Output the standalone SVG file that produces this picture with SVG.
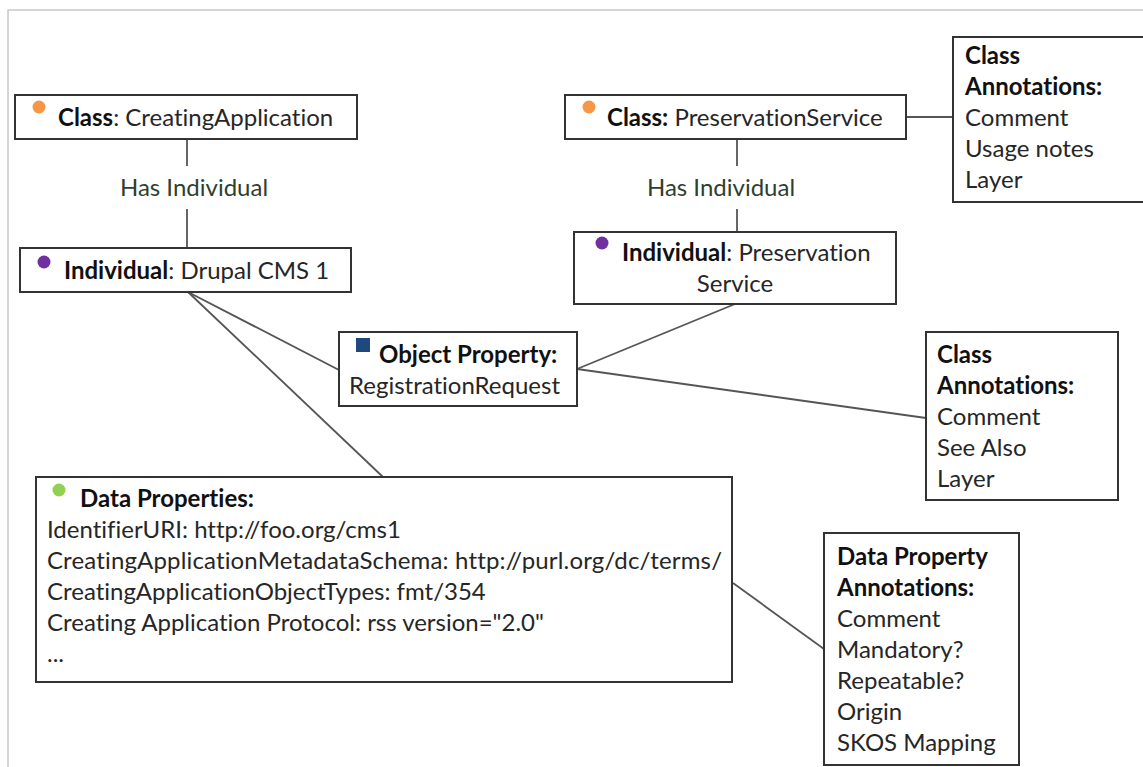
<svg xmlns="http://www.w3.org/2000/svg" width="1143" height="767" viewBox="0 0 1143 767">
  <style>
    .frame { fill: none; stroke: #c8c8c8; stroke-width: 1.5; }
    .box { fill: #ffffff; stroke: #333333; stroke-width: 2; }
    .link { fill: none; stroke: #555555; stroke-width: 1.8; }
    text { font-family: Lato, "Liberation Sans", sans-serif; font-size: 24px; fill: #262626; font-variant-ligatures: none; }
    .b { font-weight: bold; fill: #111111; }
    .rel { fill: #2f3f2f; }
  </style>
  <rect width="1143" height="767" fill="#ffffff"/>
  <path class="frame" d="M8,767 V10 H1143"/>

  <!-- connectors -->
  <g id="connectors">
    <line class="link" x1="187" y1="139" x2="187" y2="166"/>
    <line class="link" x1="187" y1="209" x2="187" y2="248"/>
    <line class="link" x1="737" y1="139" x2="737" y2="166"/>
    <line class="link" x1="737" y1="209" x2="737" y2="232"/>
    <line class="link" x1="906" y1="117" x2="953" y2="117"/>
    <line class="link" x1="188" y1="292" x2="339" y2="370"/>
    <line class="link" x1="188" y1="292" x2="383" y2="477"/>
    <line class="link" x1="577" y1="369" x2="735" y2="304"/>
    <line class="link" x1="577" y1="369" x2="926" y2="418"/>
    <line class="link" x1="733" y1="583" x2="824" y2="649"/>
    <text class="rel" x="194" y="196" text-anchor="middle">Has Individual</text>
    <text class="rel" x="721" y="196" text-anchor="middle">Has Individual</text>
  </g>

  <g id="class-creating-application">
    <rect class="box" x="15" y="95" width="342" height="44"/>
    <circle cx="39" cy="107" r="6.5" fill="#f79646"/>
    <text x="58" y="126"><tspan class="b">Class</tspan>: CreatingApplication</text>
  </g>

  <g id="individual-drupal">
    <rect class="box" x="20" y="248" width="331" height="44"/>
    <circle cx="44" cy="262" r="6.5" fill="#7030a0"/>
    <text x="64" y="279"><tspan class="b">Individual</tspan>: Drupal CMS 1</text>
  </g>

  <g id="class-preservation-service">
    <rect class="box" x="565" y="95" width="341" height="44"/>
    <circle cx="589" cy="107" r="6.5" fill="#f79646"/>
    <text x="607" y="126"><tspan class="b">Class:</tspan> PreservationService</text>
  </g>

  <g id="class-annotations-top">
    <rect class="box" x="953" y="37" width="200" height="165"/>
    <text x="965" y="64" class="b">Class</text>
    <text x="965" y="95" class="b">Annotations:</text>
    <text x="965" y="126">Comment</text>
    <text x="965" y="157">Usage notes</text>
    <text x="965" y="188">Layer</text>
  </g>

  <g id="individual-preservation-service">
    <rect class="box" x="574" y="232" width="322" height="72"/>
    <circle cx="602" cy="243" r="6.5" fill="#7030a0"/>
    <text x="622" y="261"><tspan class="b">Individual</tspan>: Preservation</text>
    <text x="735" y="292" text-anchor="middle">Service</text>
  </g>

  <g id="object-property">
    <rect class="box" x="339" y="332" width="238" height="74"/>
    <rect x="356" y="338" width="14" height="14" fill="#1f497d"/>
    <text x="379" y="363" class="b">Object Property:</text>
    <text x="349" y="394">RegistrationRequest</text>
  </g>

  <g id="class-annotations-side">
    <rect class="box" x="926" y="332" width="192" height="168"/>
    <text x="937" y="363" class="b">Class</text>
    <text x="937" y="394" class="b">Annotations:</text>
    <text x="937" y="425">Comment</text>
    <text x="937" y="456">See Also</text>
    <text x="937" y="487">Layer</text>
  </g>

  <g id="data-properties">
    <rect class="box" x="36" y="477" width="696" height="205"/>
    <circle cx="59" cy="490" r="6.5" fill="#92d050"/>
    <text x="80" y="507" class="b">Data Properties:</text>
    <text x="47" y="538">IdentifierURI: http://foo.org/cms1</text>
    <text x="47" y="569" textLength="675">CreatingApplicationMetadataSchema: http://purl.org/dc/terms/</text>
    <text x="47" y="600">CreatingApplicationObjectTypes: fmt/354</text>
    <text x="47" y="631">Creating Application Protocol: rss version="2.0"</text>
    <text x="47" y="662">...</text>
  </g>

  <g id="data-property-annotations">
    <rect class="box" x="824" y="533" width="195" height="232"/>
    <text x="837" y="565" class="b">Data Property</text>
    <text x="837" y="596" class="b">Annotations:</text>
    <text x="837" y="627">Comment</text>
    <text x="837" y="658">Mandatory?</text>
    <text x="837" y="689">Repeatable?</text>
    <text x="837" y="720">Origin</text>
    <text x="837" y="751">SKOS Mapping</text>
  </g>
</svg>
